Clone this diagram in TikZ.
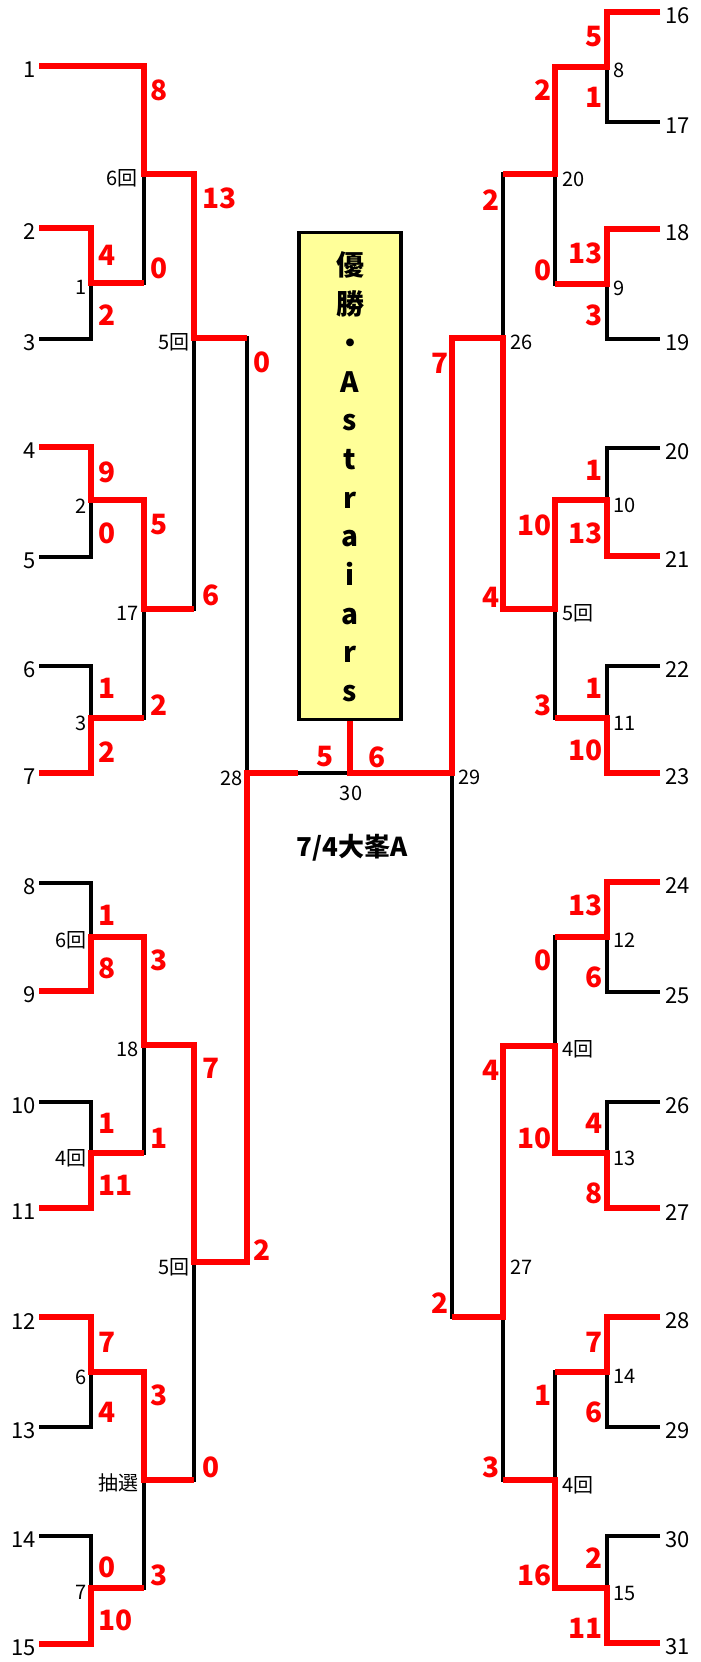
\documentclass[tikz,border=0pt]{standalone}
\usepackage{fontspec}
\setmainfont{Noto Sans CJK JP}
\definecolor{champfill}{HTML}{FFFF99}

\begin{document}
\begin{tikzpicture}[x=1pt, y=-1pt,
	bracket/.style={line width=3.1pt, black},
	winner/.style={line width=5.3pt, red},
	teamlbl/.style={font=\fontsize{22}{22}\selectfont, inner sep=0pt},
	gamelbl/.style={font=\fontsize{20}{20}\selectfont, inner sep=0pt},
	scorelbl/.style={font=\bfseries\fontsize{28}{28}\selectfont, text=red, inner sep=0pt}]
		%%%%% FRAME %%%%%
		\useasboundingbox (0,0) rectangle (701,1662);
		
		%%%%% LEFT BLOCK, BLACK %%%%%
		\draw[bracket] (39,228) -| (91,339) -- (39,339);
		\draw[bracket] (39,447) -| (91,557) -- (39,557);
		\draw[bracket] (39,666) -| (91,773) -- (39,773);
		\draw[bracket] (39,883) -| (91,991) -- (39,991);
		\draw[bracket] (39,1102) -| (91,1208) -- (39,1208);
		\draw[bracket] (39,1317) -| (91,1427) -- (39,1427);
		\draw[bracket] (39,1536) -| (91,1644) -- (39,1644);
		
		\draw[bracket] (39,66) -| (144,283) -- (91,283);
		\draw[bracket] (91,500) -| (144,718) -- (91,718);
		\draw[bracket] (91,937) -| (144,1153) -- (91,1153);
		\draw[bracket] (91,1372) -| (144,1588) -- (91,1588);
		
		\draw[bracket] (144,174) -| (194,609) -- (144,609);
		\draw[bracket] (144,1045) -| (194,1480) -- (144,1480);
		\draw[bracket] (194,338) -| (247,1262) -- (194,1262);
		\draw[bracket] (247,773) -- (452,773);
		
		%%%%% RIGHT BLOCK, BLACK %%%%%
		\draw[bracket] (660,12) -| (607,122) -- (660,122);
		\draw[bracket] (660,229) -| (607,339) -- (660,339);
		\draw[bracket] (660,448) -| (607,556) -- (660,556);
		\draw[bracket] (660,666) -| (607,773) -- (660,773);
		\draw[bracket] (660,882) -| (607,992) -- (660,992);
		\draw[bracket] (660,1102) -| (607,1208) -- (660,1208);
		\draw[bracket] (660,1317) -| (607,1427) -- (660,1427);
		\draw[bracket] (660,1536) -| (607,1643) -- (660,1643);
		
		\draw[bracket] (607,67) -| (555,284) -- (607,284);
		\draw[bracket] (607,500) -| (555,718) -- (607,718);
		\draw[bracket] (607,937) -| (555,1153) -- (607,1153);
		\draw[bracket] (607,1372) -| (555,1588) -- (607,1588);
		
		\draw[bracket] (555,174) -| (503,609) -- (555,609);
		\draw[bracket] (555,1046) -| (503,1480) -- (555,1480);
		\draw[bracket] (503,338) -| (452,1317) -- (503,1317);
		
		%%%%% CHAMPION BOX %%%%%
		\node[draw, line width=3.1pt, fill=champfill, minimum width=102pt, minimum height=487pt, inner sep=0pt] (champ) at (350,476) {};
		\node[font=\bfseries\fontsize{28}{38.7}\selectfont, align=center, inner sep=0pt] (champtxt) at (350,477) {優\\勝\\・\\A\\s\\t\\r\\a\\i\\a\\r\\s};
		
		%%%%% WINNERS, RED %%%%%
		\draw[winner] (39,66) -- (144,66) -- (144,174) -- (194,174) -- (194,338) -- (247,338);
		\draw[winner] (39,228) -- (91,228) -- (91,283) -- (144,283);
		\draw[winner] (39,447) -- (91,447) -- (91,500) -- (144,500) -- (144,609) -- (194,609);
		\draw[winner] (39,773) -- (91,773) -- (91,718) -- (144,718);
		\draw[winner] (39,991) -- (91,991) -- (91,937) -- (144,937) -- (144,1045) -- (194,1045) -- (194,1262) -- (247,1262) -- (247,773) -- (298,773);
		\draw[winner] (39,1208) -- (91,1208) -- (91,1153) -- (144,1153);
		\draw[winner] (39,1317) -- (91,1317) -- (91,1372) -- (144,1372) -- (144,1480) -- (194,1480);
		\draw[winner] (39,1644) -- (91,1644) -- (91,1588) -- (144,1588);
		
		\draw[winner] (660,12) -- (607,12) -- (607,67) -- (555,67) -- (555,174) -- (503,174);
		\draw[winner] (660,229) -- (607,229) -- (607,284) -- (555,284);
		\draw[winner] (660,556) -- (607,556) -- (607,500) -- (555,500) -- (555,609) -- (503,609) -- (503,338) -- (452,338) -- (452,773) -- (350,773) -- (champ.south);
		\draw[winner] (660,773) -- (607,773) -- (607,718) -- (555,718);
		\draw[winner] (660,882) -- (607,882) -- (607,937) -- (555,937);
		\draw[winner] (660,1208) -- (607,1208) -- (607,1153) -- (555,1153) -- (555,1046) -- (503,1046) -- (503,1317) -- (452,1317);
		\draw[winner] (660,1317) -- (607,1317) -- (607,1372) -- (555,1372);
		\draw[winner] (660,1643) -- (607,1643) -- (607,1588) -- (555,1588) -- (555,1480) -- (503,1480);
		
		%%%%% TEAMS %%%%%
		\node[teamlbl, anchor=east] (t1) at (36,70) {1};
		\node[teamlbl, anchor=east] (t2) at (36,232) {2};
		\node[teamlbl, anchor=east] (t3) at (36,343) {3};
		\node[teamlbl, anchor=east] (t4) at (36,451) {4};
		\node[teamlbl, anchor=east] (t5) at (36,561) {5};
		\node[teamlbl, anchor=east] (t6) at (36,670) {6};
		\node[teamlbl, anchor=east] (t7) at (36,777) {7};
		\node[teamlbl, anchor=east] (t8) at (36,887) {8};
		\node[teamlbl, anchor=east] (t9) at (36,995) {9};
		\node[teamlbl, anchor=east] (t10) at (36,1106) {10};
		\node[teamlbl, anchor=east] (t11) at (36,1212) {11};
		\node[teamlbl, anchor=east] (t12) at (36,1321) {12};
		\node[teamlbl, anchor=east] (t13) at (36,1431) {13};
		\node[teamlbl, anchor=east] (t14) at (36,1540) {14};
		\node[teamlbl, anchor=east] (t15) at (36,1648) {15};
		
		\node[teamlbl, anchor=west] (t16) at (665,16) {16};
		\node[teamlbl, anchor=west] (t17) at (665,126) {17};
		\node[teamlbl, anchor=west] (t18) at (665,233) {18};
		\node[teamlbl, anchor=west] (t19) at (665,343) {19};
		\node[teamlbl, anchor=west] (t20) at (665,452) {20};
		\node[teamlbl, anchor=west] (t21) at (665,560) {21};
		\node[teamlbl, anchor=west] (t22) at (665,670) {22};
		\node[teamlbl, anchor=west] (t23) at (665,777) {23};
		\node[teamlbl, anchor=west] (t24) at (665,886) {24};
		\node[teamlbl, anchor=west] (t25) at (665,996) {25};
		\node[teamlbl, anchor=west] (t26) at (665,1106) {26};
		\node[teamlbl, anchor=west] (t27) at (665,1212) {27};
		\node[teamlbl, anchor=west] (t28) at (665,1321) {28};
		\node[teamlbl, anchor=west] (t29) at (665,1431) {29};
		\node[teamlbl, anchor=west] (t30) at (665,1540) {30};
		\node[teamlbl, anchor=west] (t31) at (665,1647) {31};
		
		%%%%% GAMES %%%%%
		\node[gamelbl, anchor=east] (g1) at (87,287) {1};
		\node[gamelbl, anchor=east] (g2) at (87,506) {2};
		\node[gamelbl, anchor=east] (g3) at (87,723) {3};
		\node[gamelbl, anchor=east] (g4) at (87,940) {6回};
		\node[gamelbl, anchor=east] (g5) at (87,1158) {4回};
		\node[gamelbl, anchor=east] (g6) at (87,1377) {6};
		\node[gamelbl, anchor=east] (g7) at (87,1592) {7};
		\node[gamelbl, anchor=east] (g16) at (138,178) {6回};
		\node[gamelbl, anchor=east] (g17) at (139,613) {17};
		\node[gamelbl, anchor=east] (g18) at (139,1049) {18};
		\node[gamelbl, anchor=east] (g19) at (139,1483) {抽選};
		\node[gamelbl, anchor=east] (g24) at (190,342) {5回};
		\node[gamelbl, anchor=east] (g25) at (190,1267) {5回};
		\node[gamelbl, anchor=east] (g28) at (243,778) {28};
		
		\node[gamelbl, anchor=west] (g8) at (613,70) {8};
		\node[gamelbl, anchor=west] (g9) at (613,288) {9};
		\node[gamelbl, anchor=west] (g10) at (613,505) {10};
		\node[gamelbl, anchor=west] (g11) at (613,723) {11};
		\node[gamelbl, anchor=west] (g12) at (613,940) {12};
		\node[gamelbl, anchor=west] (g13) at (613,1158) {13};
		\node[gamelbl, anchor=west] (g14) at (613,1376) {14};
		\node[gamelbl, anchor=west] (g15) at (613,1593) {15};
		\node[gamelbl, anchor=west] (g20) at (562,179) {20};
		\node[gamelbl, anchor=west] (g21) at (562,613) {5回};
		\node[gamelbl, anchor=west] (g22) at (562,1049) {4回};
		\node[gamelbl, anchor=west] (g23) at (562,1485) {4回};
		\node[gamelbl, anchor=west] (g26) at (510,342) {26};
		\node[gamelbl, anchor=west] (g27) at (510,1267) {27};
		\node[gamelbl, anchor=west] (g29) at (458,777) {29};
		\node[gamelbl] (g30) at (351,793) {30};
		
		%%%%% SCORES, LEFT %%%%%
		\node[scorelbl, anchor=west] (s1a) at (98,255) {4};
		\node[scorelbl, anchor=west] (s1b) at (98,315) {2};
		\node[scorelbl, anchor=west] (s2a) at (98,472) {9};
		\node[scorelbl, anchor=west] (s2b) at (98,533) {0};
		\node[scorelbl, anchor=west] (s3a) at (98,688) {1};
		\node[scorelbl, anchor=west] (s3b) at (98,752) {2};
		\node[scorelbl, anchor=west] (s4a) at (98,915) {1};
		\node[scorelbl, anchor=west] (s4b) at (98,968) {8};
		\node[scorelbl, anchor=west] (s5a) at (98,1123) {1};
		\node[scorelbl, anchor=west] (s5b) at (98,1185) {11};
		\node[scorelbl, anchor=west] (s6a) at (98,1342) {7};
		\node[scorelbl, anchor=west] (s6b) at (98,1412) {4};
		\node[scorelbl, anchor=west] (s7a) at (98,1567) {0};
		\node[scorelbl, anchor=west] (s7b) at (98,1620) {10};
		\node[scorelbl, anchor=west] (s16a) at (150,90) {8};
		\node[scorelbl, anchor=west] (s16b) at (150,268) {0};
		\node[scorelbl, anchor=west] (s17a) at (150,525) {5};
		\node[scorelbl, anchor=west] (s17b) at (150,705) {2};
		\node[scorelbl, anchor=west] (s18a) at (150,960) {3};
		\node[scorelbl, anchor=west] (s18b) at (150,1138) {1};
		\node[scorelbl, anchor=west] (s19a) at (150,1395) {3};
		\node[scorelbl, anchor=west] (s19b) at (150,1575) {3};
		\node[scorelbl, anchor=west] (s24a) at (202,198) {13};
		\node[scorelbl, anchor=west] (s24b) at (202,595) {6};
		\node[scorelbl, anchor=west] (s25a) at (202,1068) {7};
		\node[scorelbl, anchor=west] (s25b) at (202,1467) {0};
		\node[scorelbl, anchor=west] (s28a) at (253,362) {0};
		\node[scorelbl, anchor=west] (s28b) at (253,1250) {2};
		
		%%%%% SCORES, RIGHT %%%%%
		\node[scorelbl, anchor=east] (s8a) at (603,37) {5};
		\node[scorelbl, anchor=east] (s8b) at (603,97) {1};
		\node[scorelbl, anchor=east] (s9a) at (603,253) {13};
		\node[scorelbl, anchor=east] (s9b) at (603,315) {3};
		\node[scorelbl, anchor=east] (s10a) at (603,470) {1};
		\node[scorelbl, anchor=east] (s10b) at (603,533) {13};
		\node[scorelbl, anchor=east] (s11a) at (603,688) {1};
		\node[scorelbl, anchor=east] (s11b) at (603,750) {10};
		\node[scorelbl, anchor=east] (s12a) at (603,905) {13};
		\node[scorelbl, anchor=east] (s12b) at (603,977) {6};
		\node[scorelbl, anchor=east] (s13a) at (603,1123) {4};
		\node[scorelbl, anchor=east] (s13b) at (603,1193) {8};
		\node[scorelbl, anchor=east] (s14a) at (603,1342) {7};
		\node[scorelbl, anchor=east] (s14b) at (603,1412) {6};
		\node[scorelbl, anchor=east] (s15a) at (603,1558) {2};
		\node[scorelbl, anchor=east] (s15b) at (603,1628) {11};
		\node[scorelbl, anchor=east] (s20a) at (552,90) {2};
		\node[scorelbl, anchor=east] (s20b) at (552,270) {0};
		\node[scorelbl, anchor=east] (s21a) at (552,525) {10};
		\node[scorelbl, anchor=east] (s21b) at (552,705) {3};
		\node[scorelbl, anchor=east] (s22a) at (552,960) {0};
		\node[scorelbl, anchor=east] (s22b) at (552,1138) {10};
		\node[scorelbl, anchor=east] (s23a) at (552,1395) {1};
		\node[scorelbl, anchor=east] (s23b) at (552,1575) {16};
		\node[scorelbl, anchor=east] (s26a) at (500,200) {2};
		\node[scorelbl, anchor=east] (s26b) at (500,597) {4};
		\node[scorelbl, anchor=east] (s27a) at (500,1070) {4};
		\node[scorelbl, anchor=east] (s27b) at (500,1467) {3};
		\node[scorelbl, anchor=east] (s29a) at (449,363) {7};
		\node[scorelbl, anchor=east] (s29b) at (449,1303) {2};
		
		%%%%% FINAL %%%%%
		\node[scorelbl] (s30a) at (325,757) {5};
		\node[scorelbl] (s30b) at (377,757) {6};
		\node[font=\bfseries\fontsize{26}{26}\selectfont, inner sep=0pt] (title) at (352,848) {7/4大峯A};
		
\end{tikzpicture}
\end{document}
